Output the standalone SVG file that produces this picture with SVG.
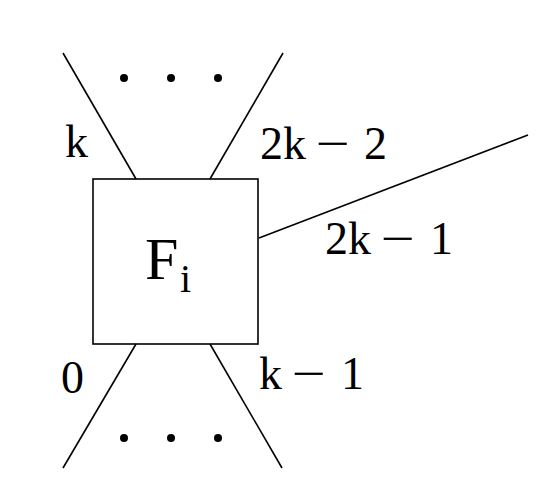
<svg xmlns="http://www.w3.org/2000/svg" width="550" height="503" viewBox="0 0 550 503">
<style>
.ln{stroke:#000;stroke-width:1.6;fill:none}
.t{font-family:"Liberation Serif","Times New Roman",serif;fill:#000}
.lbl{font-size:46px}
</style>
<rect width="550" height="503" fill="#fff"/>
<g id="connectors">
<line class="ln" x1="63" y1="53" x2="136" y2="179"/>
<line class="ln" x1="283" y1="53" x2="210" y2="179"/>
<line class="ln" x1="259" y1="238" x2="528" y2="135"/>
<line class="ln" x1="136" y1="344" x2="63" y2="468"/>
<line class="ln" x1="210" y1="344" x2="282" y2="468"/>
</g>
<g id="node-Fi">
<rect class="ln" x="93" y="179" width="165" height="165"/>
<text class="t" x="145" y="279" font-size="60">F<tspan x="180" y="292" font-size="40">i</tspan></text>
</g>
<g id="dots-top">
<circle cx="124" cy="78" r="4"/>
<circle cx="171" cy="78" r="4"/>
<circle cx="218" cy="78" r="4"/>
</g>
<g id="dots-bottom">
<circle cx="124" cy="438" r="4"/>
<circle cx="171" cy="438" r="4"/>
<circle cx="218" cy="438" r="4"/>
</g>
<g id="labels">
<text class="t lbl" x="65" y="157">k</text>
<text class="t lbl" x="260" y="159">2k<tspan x="316" textLength="34" lengthAdjust="spacingAndGlyphs">−</tspan><tspan x="364">2</tspan></text>
<text class="t lbl" x="325" y="254">2k<tspan x="381" textLength="34" lengthAdjust="spacingAndGlyphs">−</tspan><tspan x="430">1</tspan></text>
<text class="t lbl" x="61" y="393">0</text>
<text class="t lbl" x="259" y="389">k<tspan x="292" textLength="34" lengthAdjust="spacingAndGlyphs">−</tspan><tspan x="341">1</tspan></text>
</g>
</svg>
